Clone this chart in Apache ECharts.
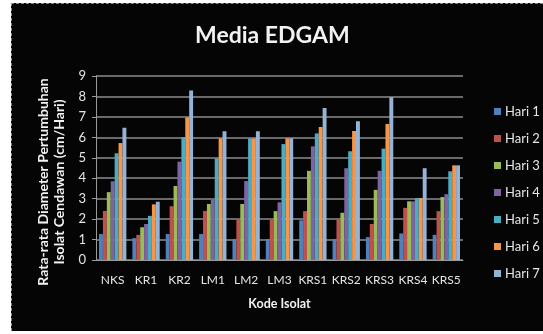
<!DOCTYPE html>
<html>
<head>
<meta charset="utf-8">
<script src="https://cdn.jsdelivr.net/npm/echarts@6/dist/echarts.min.js"></script>
<style>
  html, body { margin: 0; padding: 0; background: #ffffff; }
  #frame { position: absolute; left: 11px; top: 3px; width: 532px; height: 328px;
           background: #050505; box-sizing: border-box; border-left: 1px dashed #8a8a8a; border-top: 1px dashed #8a8a8a; }
  #chart { position: absolute; left: 0; top: 0; width: 531px; height: 327px; }
</style>
</head>
<body>
<div id="frame"><div id="chart"></div></div>
<script>
// Isolate codes on the x axis
const categories = ['NKS', 'KR1', 'KR2', 'LM1', 'LM2', 'LM3', 'KRS1', 'KRS2', 'KRS3', 'KRS4', 'KRS5'];

// Mean growth diameter (cm/day) per isolate, one array per day
const hari1 = [1.27, 1.07, 1.27, 1.27, 1.03, 1.03, 1.94, 1.03, 1.12, 1.30, 1.23];
const hari2 = [2.40, 1.23, 2.63, 2.40, 1.96, 1.96, 2.39, 1.96, 1.76, 2.55, 2.39];
const hari3 = [3.32, 1.60, 3.62, 2.74, 2.74, 2.39, 4.36, 2.31, 3.43, 2.87, 3.08];
const hari4 = [3.85, 1.76, 4.81, 2.95, 3.86, 2.82, 5.56, 4.49, 4.36, 2.87, 3.22];
const hari5 = [5.22, 2.16, 6.01, 4.97, 5.95, 5.67, 6.19, 5.32, 5.45, 3.03, 4.34];
const hari6 = [5.72, 2.72, 6.97, 5.95, 5.95, 5.95, 6.51, 6.31, 6.65, 3.03, 4.63];
const hari7 = [6.47, 2.85, 8.29, 6.30, 6.30, 5.95, 7.44, 6.79, 7.96, 4.49, 4.63];

const seriesNames = ['Hari 1', 'Hari 2', 'Hari 3', 'Hari 4', 'Hari 5', 'Hari 6', 'Hari 7'];
const seriesValues = [hari1, hari2, hari3, hari4, hari5, hari6, hari7];
const colors = ['#4F81BD', '#C0504D', '#9BBB59', '#8064A2', '#4BACC6', '#F79646', '#95B3D7'];

const yTicks = { min: 0, max: 9, interval: 1 };

const font = 'Lato, "Open Sans", sans-serif';
const chart = echarts.init(document.getElementById('chart'), null, { renderer: 'canvas' });

chart.setOption({
  backgroundColor: 'transparent',
  color: colors,
  animation: false,
  title: {
    text: 'Media EDGAM',
    left: 178, top: 15,
    textStyle: { color: '#f2f2f2', fontSize: 23, fontWeight: 'bold', fontFamily: font }
  },
  legend: {
    orient: 'vertical',
    left: 477, top: 96,
    itemWidth: 7, itemHeight: 7, itemGap: 14,
    icon: 'rect',
    textStyle: { color: '#e6e6e6', fontSize: 13, fontFamily: font, padding: [0, 0, 0, -1] },
    data: seriesNames
  },
  grid: { left: 84, top: 72, width: 367, height: 184, containLabel: false },
  xAxis: {
    type: 'category',
    data: categories,
    name: 'Kode Isolat',
    nameLocation: 'middle',
    nameGap: 37,
    nameTextStyle: { color: '#f2f2f2', fontSize: 12.5, fontWeight: 'bold', fontFamily: font },
    axisLine: { lineStyle: { color: '#9a9a9a', width: 1 } },
    axisTick: { show: false },
    axisLabel: { color: '#e6e6e6', fontSize: 12, fontFamily: font, margin: 14, interval: 0 }
  },
  yAxis: {
    type: 'value',
    min: yTicks.min, max: yTicks.max, interval: yTicks.interval,
    name: 'Rata-rata Diameter Pertumbuhan\nIsolat Cendawan (cm/Hari)',
    nameLocation: 'middle',
    nameGap: 26,
    nameRotate: 90,
    nameTextStyle: { color: '#f2f2f2', fontSize: 14, fontWeight: 'bold', fontFamily: font, lineHeight: 16, padding: [0, 28, 0, 0] },
    axisLine: { show: true, lineStyle: { color: '#9a9a9a' } },
    axisTick: { show: true, length: 4, lineStyle: { color: '#9a9a9a' } },
    axisLabel: { color: '#e6e6e6', fontSize: 13, fontFamily: font, margin: 10 },
    splitLine: { lineStyle: { color: '#8c8c8c', width: 1.5 } }
  },
  series: seriesNames.map((name, i) => ({
    name: name,
    type: 'bar',
    data: seriesValues[i],
    barGap: '0%',
    barCategoryGap: '18%',
    itemStyle: { color: colors[i] }
  }))
});
</script>
</body>
</html>
